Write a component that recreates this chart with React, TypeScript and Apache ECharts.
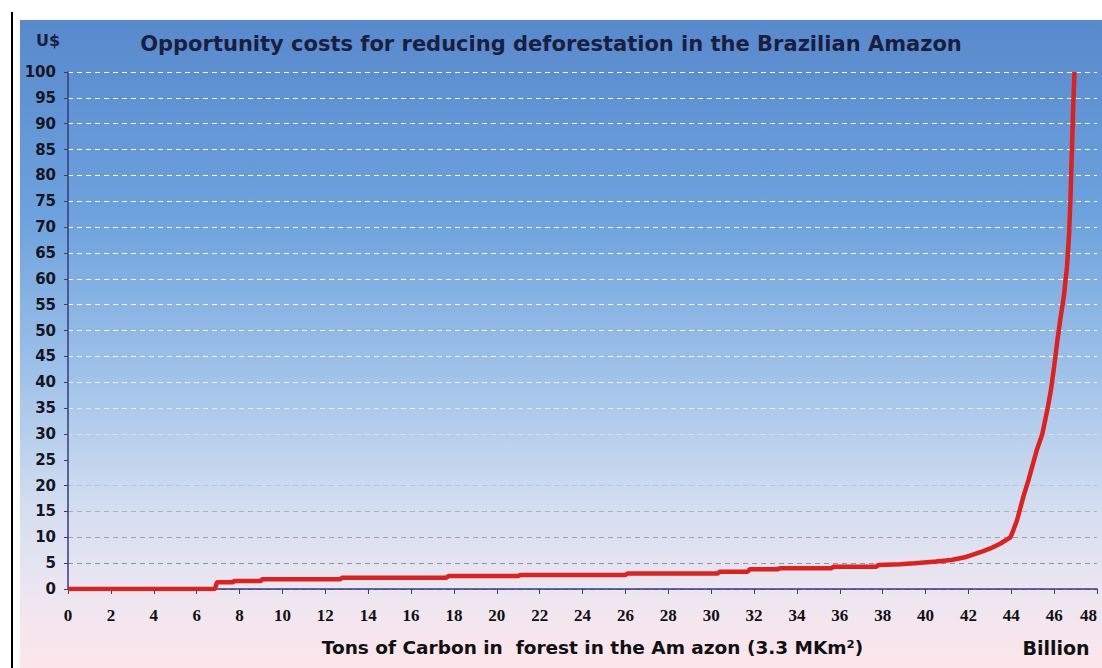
import React, { useEffect, useRef } from "react";
import * as echarts from "echarts";

// Tons of carbon (billion) on the x axis, cost in US$ on the y axis
const carbonBillions = [
  0, 6.85, 6.95, 7.7, 7.75, 9.0, 9.05, 12.7, 12.8, 17.65, 17.75, 21.0, 21.1, 26.0, 26.1,
  30.3, 30.4, 31.7, 31.8, 33.1, 33.2, 35.6, 35.7, 37.7, 37.8, 38.8, 39.5, 40.5, 41.2, 41.9,
  42.6, 43.0, 43.5, 43.96, 44.1, 44.27, 44.4, 44.57, 44.8, 45.0, 45.2, 45.45, 45.7, 45.85,
  46.0, 46.15, 46.3, 46.45, 46.6, 46.7, 46.76, 46.83, 46.9, 46.95,
];
const costUSD = [
  0, 0, 1.3, 1.3, 1.55, 1.55, 1.9, 1.9, 2.2, 2.2, 2.5, 2.5, 2.7, 2.7, 3.0,
  3.0, 3.35, 3.35, 3.8, 3.8, 4.0, 4.0, 4.3, 4.3, 4.65, 4.8, 5.0, 5.3, 5.6, 6.2,
  7.2, 7.8, 8.8, 10.0, 11.4, 13.3, 15.3, 17.9, 21.0, 24.0, 27.0, 30.0, 35.0, 38.5,
  43.0, 48.0, 52.5, 56.5, 62.3, 68.8, 75.2, 85.0, 94.6, 100,
];

const titleText = "Opportunity costs for reducing deforestation in the Brazilian Amazon";
const xAxisTitle = "Tons of Carbon in  forest in the Am azon (3.3 MKm\u00B2)";
const yUnit = "U$";
const xUnit = "Billion";

const gridColors = [
  "#7f8898", "#8a94a4", "#98a2b2", "#a6b1c2", "#b6c2d3", "#c6d2e2", "#d6e0ee",
  "#e4ecf7", "#eef4fb", "#f6f9fd", "#ffffff", "#ffffff", "#ffffff", "#ffffff",
  "#ffffff", "#ffffff", "#ffffff", "#ffffff", "#ffffff", "#ffffff", "#ffffff",
];

export default function App() {
  const ref = useRef<HTMLDivElement>(null);
  useEffect(() => {
    const chart = echarts.init(ref.current!, null, { renderer: "svg" });
    const data = carbonBillions.map((x, i) => [x, costUSD[i]]);
    chart.setOption({
      animation: false,
      backgroundColor: "#ffffff",
      graphic: [
        {
          type: "rect",
          z: -10,
          silent: true,
          shape: { x: 20, y: 20, width: 1082, height: 648 },
          style: {
            fill: {
              type: "linear", x: 0, y: 0, x2: 0, y2: 1,
              colorStops: [
                { offset: 0, color: "#5889cd" },
                { offset: 0.3, color: "#6ca2dd" },
                { offset: 0.55, color: "#a0c2e9" },
                { offset: 0.75, color: "#d3def0" },
                { offset: 0.88, color: "#ece6f1" },
                { offset: 1, color: "#fde6ec" },
              ],
            },
          },
        },
        {
          type: "line",
          silent: true,
          shape: { x1: 12, y1: 12, x2: 12, y2: 668 },
          style: { stroke: "#000000", lineWidth: 2 },
        },
        {
          type: "text",
          x: 48,
          y: 40,
          style: {
            text: yUnit,
            align: "center",
            verticalAlign: "middle",
            fontFamily: "DejaVu Sans",
            fontWeight: "bold",
            fontSize: 16,
            fill: "#1a1f3a",
          },
        },
        {
          type: "text",
          x: 1056,
          y: 648,
          style: {
            text: xUnit,
            align: "center",
            verticalAlign: "middle",
            fontFamily: "DejaVu Sans",
            fontWeight: "bold",
            fontSize: 19,
            fill: "#111111",
          },
        },
      ],
      title: {
        text: titleText,
        left: "center",
        top: 28,
        textStyle: {
          fontFamily: "DejaVu Sans",
          fontWeight: "bold",
          fontSize: 21,
          color: "#1a1f40",
        },
      },
      grid: {
        left: 68,
        right: 5,
        top: 72,
        bottom: 79,
        containLabel: false,
        outerBoundsMode: "none",
      },
      xAxis: {
        type: "value",
        min: 0,
        max: 48,
        interval: 2,
        name: xAxisTitle,
        nameLocation: "middle",
        nameGap: 49,
        nameTextStyle: {
          fontFamily: "DejaVu Sans",
          fontWeight: "bold",
          fontSize: 18.5,
          color: "#111111",
          padding: [0, 0, 0, 20],
        },
        axisLine: { show: true, onZero: false, lineStyle: { color: "#3a3a7e", width: 1.5 } },
        axisTick: { show: true, length: 5, lineStyle: { color: "#3a3a7e" } },
        axisLabel: {
          margin: 18,
          fontFamily: "Liberation Serif",
          fontWeight: "bold",
          fontSize: 17,
          color: "#111111",
          showMaxLabel: true,
          alignMaxLabel: "right",
        },
        splitLine: { show: false },
      },
      yAxis: {
        type: "value",
        min: 0,
        max: 100,
        interval: 5,
        axisLine: { show: true, lineStyle: { color: "#3a3a7e", width: 1.5 } },
        axisTick: { show: true, length: 4, lineStyle: { color: "#3a3a7e" } },
        axisLabel: {
          margin: 12,
          fontFamily: "DejaVu Sans",
          fontWeight: "bold",
          fontSize: 15,
          color: "#15151f",
        },
        splitLine: {
          show: true,
          lineStyle: { color: gridColors, type: [5, 4], width: 1.2 },
        },
      },
      series: [
        {
          type: "line",
          data,
          showSymbol: false,
          smooth: false,
          lineStyle: { color: "#e0201c", width: 4.5 },
          z: 5,
        },
      ],
    });
    return () => chart.dispose();
  }, []);
  return (
    <div
      ref={ref}
      style={{ position: "fixed", left: 0, top: 0, width: 1102, height: 668 }}
    />
  );
}
